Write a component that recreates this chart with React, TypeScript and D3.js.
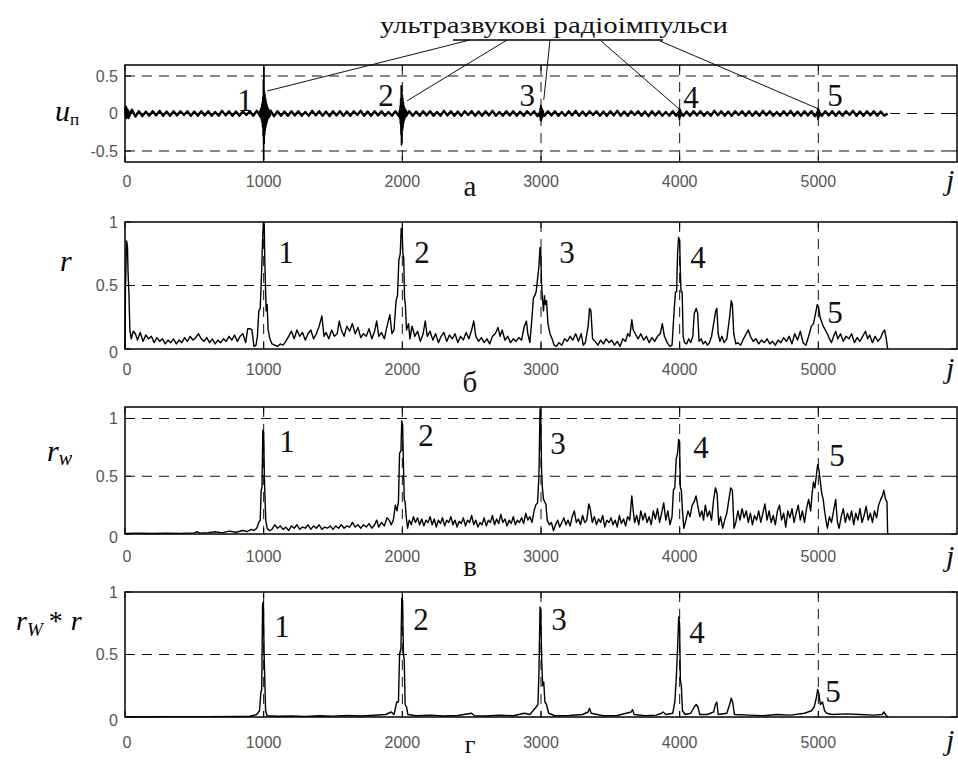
import React from "react";
import * as d3 from "d3";

// ---- data ----
const xTicks = [0, 1000, 2000, 3000, 4000, 5000];
const xGrid = [1000, 2000, 3000, 4000, 5000];

// received signal u_п, background noise sampled every 25 points
const uStep = 25;
const uBase = [
  0.07, -0.06, 0.05, -0.04, 0.03, -0.035, 0.025, -0.03, 0.03, -0.025, 0.035, -0.03, 0.025, -0.03, 0.03, -0.025, 0.03, -0.02, 0.03, -0.03,
  0.025, -0.03, 0.03, -0.025, 0.03, -0.03, 0.02, -0.03, 0.035, -0.025, 0.03, -0.03, 0.025, -0.03, 0.03, -0.02, 0.03, -0.03, 0.035, -0.03,
  0.04, -0.04, 0.035, -0.035, 0.03, -0.03, 0.025, -0.03, 0.03, -0.025, 0.03, -0.03, 0.02, -0.03, 0.035, -0.025, 0.03, -0.03, 0.025, -0.035,
  0.03, -0.025, 0.03, -0.03, 0.025, -0.03, 0.03, -0.02, 0.035, -0.03, 0.025, -0.03, 0.03, -0.025, 0.03, -0.03, 0.02, -0.03, 0.03, -0.035,
  0.04, -0.035, 0.03, -0.03, 0.025, -0.03, 0.03, -0.025, 0.03, -0.03, 0.02, -0.03, 0.035, -0.025, 0.03, -0.03, 0.025, -0.03, 0.03, -0.02,
  0.03, -0.03, 0.025, -0.03, 0.03, -0.025, 0.035, -0.03, 0.02, -0.03, 0.03, -0.025, 0.03, -0.03, 0.025, -0.03, 0.03, -0.02, 0.03, -0.035,
  0.035, -0.03, 0.03, -0.025, 0.03, -0.03, 0.02, -0.03, 0.03, -0.025, 0.035, -0.03, 0.025, -0.03, 0.03, -0.02, 0.03, -0.03, 0.025, -0.03,
  0.03, -0.025, 0.035, -0.03, 0.025, -0.03, 0.03, -0.02, 0.03, -0.03, 0.025, -0.035, 0.03, -0.025, 0.03, -0.03, 0.02, -0.03, 0.03, -0.03,
  0.035, -0.03, 0.025, -0.03, 0.03, -0.025, 0.03, -0.03, 0.02, -0.03, 0.035, -0.025, 0.03, -0.03, 0.025, -0.03, 0.03, -0.02, 0.03, -0.03,
  0.03, -0.03, 0.025, -0.03, 0.035, -0.025, 0.03, -0.03, 0.02, -0.03, 0.03, -0.025, 0.035, -0.03, 0.025, -0.03, 0.03, -0.025, 0.03, -0.035,
  0.035, -0.03, 0.03, -0.025, 0.03, -0.03, 0.025, -0.03, 0.03, -0.02, 0.035, -0.03, 0.025, -0.03, 0.03, -0.025, 0.03, -0.03, 0.025, -0.03,
  0.0,
];
// ultrasonic bursts, every 2 points
const burst0 = [0.0, 0.08, -0.05, 0.1, -0.07, 0.09, -0.06, 0.07, -0.05, 0.06, -0.04, 0.05, -0.04, 0.04, -0.035, 0.035];
const burst1 = [
  0.03, -0.035, 0.04, -0.05, 0.06, -0.06, 0.08, -0.09, 0.12, -0.12, 0.15, -0.18, 0.22, -0.3, 0.45, -0.62, 0.62, -0.4,
  0.3, -0.28, 0.25, -0.22, 0.2, -0.18, 0.16, -0.15, 0.13, -0.12, 0.1, -0.09, 0.08, -0.07, 0.06, -0.06, 0.05, -0.05,
  0.04, -0.04, 0.035, -0.03, 0.03,
];
const burst2 = [
  0.03, -0.04, 0.05, -0.07, 0.1, -0.14, 0.2, -0.28, 0.37, -0.42, 0.35, -0.3, 0.25, -0.22, 0.2, -0.18, 0.15, -0.13,
  0.1, -0.09, 0.08, -0.07, 0.06, -0.05, 0.05, -0.04, 0.04, -0.035, 0.03,
];
const burst3 = [0.03, -0.05, 0.07, -0.09, 0.11, -0.1, 0.09, -0.08, 0.07, -0.06, 0.05, -0.045, 0.04, -0.035, 0.03];
const burst4 = [0.03, -0.05, 0.07, -0.08, 0.07, -0.06, 0.05, -0.04, 0.035, -0.03];
const burst5 = [0.03, -0.05, 0.07, -0.08, 0.07, -0.06, 0.05, -0.04, 0.035, -0.03];
const burstStarts = [0, 970, 1976, 2990, 3992, 4992];

// correlation r
const rCorr = [
  [0, 0.0], [3, 0.45], [8, 0.7], [12, 0.85], [18, 0.8], [22, 0.6], [28, 0.45], [35, 0.15], [45, 0.08], [60, 0.14], [75, 0.12],
  [90, 0.07], [110, 0.13], [130, 0.06], [150, 0.11], [170, 0.08], [190, 0.1], [210, 0.05], [230, 0.09], [250, 0.06], [270, 0.08],
  [290, 0.04], [310, 0.07], [330, 0.05], [350, 0.08], [370, 0.04], [390, 0.07], [410, 0.05], [430, 0.09], [450, 0.06], [470, 0.1],
  [490, 0.07], [510, 0.09], [530, 0.12], [550, 0.08], [570, 0.06], [590, 0.09], [610, 0.05], [630, 0.08], [650, 0.04], [670, 0.07],
  [690, 0.05], [710, 0.08], [730, 0.06], [750, 0.1], [770, 0.07], [790, 0.11], [810, 0.06], [830, 0.1], [850, 0.12], [870, 0.05],
  [885, 0.16], [900, 0.16], [915, 0.15], [930, 0.02], [945, 0.03], [955, 0.1], [965, 0.3], [975, 0.32], [985, 0.6], [992, 0.85],
  [998, 1.0], [1004, 0.98], [1008, 0.7], [1013, 0.5], [1018, 0.3], [1025, 0.35], [1032, 0.15], [1045, 0.08], [1060, 0.04],
  [1080, 0.03], [1100, 0.02], [1120, 0.04], [1140, 0.03], [1160, 0.06], [1180, 0.1], [1200, 0.14], [1220, 0.08], [1240, 0.15],
  [1260, 0.1], [1280, 0.13], [1300, 0.07], [1320, 0.12], [1340, 0.15], [1360, 0.08], [1380, 0.12], [1400, 0.18], [1420, 0.26],
  [1435, 0.1], [1450, 0.13], [1470, 0.08], [1490, 0.15], [1510, 0.1], [1530, 0.12], [1545, 0.22], [1560, 0.15], [1580, 0.1],
  [1600, 0.18], [1620, 0.14], [1640, 0.2], [1660, 0.12], [1680, 0.17], [1700, 0.09], [1720, 0.12], [1740, 0.1], [1760, 0.16],
  [1780, 0.08], [1800, 0.14], [1815, 0.22], [1830, 0.1], [1850, 0.13], [1870, 0.08], [1890, 0.18], [1910, 0.27], [1925, 0.12],
  [1940, 0.15], [1955, 0.38], [1965, 0.42], [1975, 0.7], [1985, 0.75], [1992, 0.95], [1998, 0.95], [2004, 0.75], [2010, 0.72],
  [2016, 0.4], [2022, 0.35], [2030, 0.15], [2045, 0.2], [2055, 0.08], [2070, 0.18], [2090, 0.1], [2110, 0.14], [2130, 0.06],
  [2150, 0.12], [2165, 0.22], [2180, 0.1], [2200, 0.14], [2220, 0.07], [2240, 0.12], [2260, 0.05], [2280, 0.1], [2300, 0.13],
  [2320, 0.06], [2340, 0.11], [2360, 0.08], [2380, 0.12], [2400, 0.05], [2420, 0.1], [2440, 0.07], [2460, 0.13], [2480, 0.08],
  [2500, 0.15], [2515, 0.22], [2530, 0.1], [2550, 0.06], [2570, 0.09], [2590, 0.05], [2610, 0.08], [2630, 0.04], [2650, 0.1],
  [2670, 0.12], [2690, 0.17], [2705, 0.1], [2720, 0.15], [2740, 0.07], [2760, 0.1], [2780, 0.05], [2800, 0.08], [2820, 0.06],
  [2840, 0.09], [2860, 0.07], [2880, 0.18], [2895, 0.22], [2905, 0.12], [2920, 0.05], [2935, 0.25], [2945, 0.4], [2955, 0.42],
  [2965, 0.45], [2975, 0.55], [2985, 0.65], [2993, 0.8], [2998, 0.78], [3004, 0.5], [3010, 0.4], [3018, 0.3], [3025, 0.42],
  [3032, 0.35], [3040, 0.38], [3050, 0.2], [3065, 0.12], [3080, 0.08], [3095, 0.03], [3110, 0.02], [3130, 0.05], [3150, 0.03],
  [3170, 0.08], [3190, 0.06], [3210, 0.1], [3230, 0.07], [3250, 0.12], [3270, 0.06], [3290, 0.12], [3305, 0.03], [3320, 0.05],
  [3340, 0.18], [3350, 0.32], [3360, 0.3], [3372, 0.08], [3390, 0.06], [3410, 0.03], [3430, 0.07], [3450, 0.04], [3470, 0.08],
  [3490, 0.05], [3510, 0.07], [3530, 0.03], [3550, 0.06], [3570, 0.02], [3590, 0.08], [3610, 0.06], [3625, 0.12], [3640, 0.1],
  [3655, 0.23], [3665, 0.15], [3680, 0.12], [3700, 0.08], [3720, 0.12], [3740, 0.07], [3760, 0.1], [3780, 0.05], [3800, 0.09],
  [3820, 0.06], [3840, 0.1], [3860, 0.12], [3875, 0.2], [3890, 0.1], [3910, 0.05], [3930, 0.02], [3945, 0.03], [3960, 0.3],
  [3970, 0.45], [3978, 0.45], [3985, 0.75], [3992, 0.88], [4000, 0.85], [4005, 0.6], [4010, 0.45], [4018, 0.45], [4025, 0.1],
  [4035, 0.05], [4050, 0.04], [4065, 0.08], [4080, 0.05], [4095, 0.1], [4105, 0.28], [4120, 0.32], [4130, 0.28], [4140, 0.06],
  [4155, 0.08], [4170, 0.04], [4185, 0.06], [4200, 0.03], [4215, 0.05], [4230, 0.1], [4245, 0.2], [4260, 0.3], [4268, 0.32],
  [4278, 0.12], [4290, 0.06], [4305, 0.1], [4320, 0.05], [4340, 0.08], [4360, 0.25], [4372, 0.38], [4380, 0.35], [4390, 0.12],
  [4405, 0.04], [4420, 0.05], [4440, 0.03], [4460, 0.08], [4480, 0.12], [4495, 0.15], [4510, 0.1], [4530, 0.06], [4550, 0.08],
  [4570, 0.04], [4590, 0.07], [4610, 0.05], [4630, 0.08], [4650, 0.04], [4670, 0.06], [4690, 0.03], [4710, 0.07], [4730, 0.05],
  [4750, 0.09], [4770, 0.06], [4790, 0.1], [4810, 0.04], [4830, 0.12], [4850, 0.07], [4870, 0.14], [4890, 0.05], [4910, 0.03],
  [4930, 0.1], [4950, 0.18], [4965, 0.2], [4980, 0.28], [4992, 0.35], [5002, 0.33], [5012, 0.25], [5022, 0.22], [5035, 0.18],
  [5050, 0.15], [5065, 0.12], [5080, 0.08], [5095, 0.05], [5110, 0.1], [5125, 0.14], [5140, 0.08], [5160, 0.12], [5180, 0.06],
  [5200, 0.1], [5220, 0.08], [5240, 0.12], [5260, 0.05], [5280, 0.09], [5300, 0.06], [5320, 0.1], [5340, 0.14], [5355, 0.08],
  [5370, 0.11], [5390, 0.05], [5410, 0.1], [5430, 0.06], [5450, 0.09], [5465, 0.13], [5478, 0.15], [5490, 0.08], [5500, 0.0],
];

// weighted correlation r_w
const rW = [
  [0, 0.005], [100, 0.006], [200, 0.004], [300, 0.006], [400, 0.005], [500, 0.01], [520, 0.02], [540, 0.008], [600, 0.012],
  [650, 0.02], [700, 0.01], [750, 0.025], [800, 0.015], [850, 0.03], [880, 0.02], [910, 0.04], [930, 0.03], [950, 0.05],
  [965, 0.1], [975, 0.12], [982, 0.38], [988, 0.4], [994, 0.9], [1000, 0.88], [1005, 0.5], [1010, 0.3], [1015, 0.12],
  [1025, 0.05], [1040, 0.03], [1060, 0.04], [1080, 0.08], [1100, 0.05], [1120, 0.07], [1140, 0.04], [1160, 0.06], [1180, 0.03],
  [1200, 0.07], [1220, 0.05], [1240, 0.08], [1260, 0.04], [1280, 0.06], [1300, 0.05], [1320, 0.08], [1340, 0.04], [1360, 0.07],
  [1380, 0.05], [1400, 0.08], [1420, 0.04], [1440, 0.06], [1460, 0.05], [1480, 0.07], [1500, 0.04], [1520, 0.07], [1540, 0.05],
  [1560, 0.08], [1580, 0.05], [1600, 0.07], [1620, 0.06], [1640, 0.1], [1660, 0.06], [1680, 0.08], [1700, 0.05], [1720, 0.08],
  [1740, 0.06], [1760, 0.09], [1780, 0.05], [1800, 0.08], [1815, 0.12], [1830, 0.06], [1850, 0.1], [1870, 0.07], [1890, 0.14],
  [1905, 0.12], [1920, 0.08], [1935, 0.12], [1950, 0.25], [1962, 0.2], [1972, 0.28], [1980, 0.7], [1990, 0.72], [1996, 0.98],
  [2002, 0.95], [2008, 0.6], [2014, 0.3], [2020, 0.28], [2028, 0.15], [2038, 0.05], [2050, 0.12], [2065, 0.08], [2080, 0.15],
  [2095, 0.1], [2110, 0.14], [2125, 0.08], [2140, 0.13], [2155, 0.07], [2170, 0.12], [2185, 0.1], [2200, 0.15], [2215, 0.08],
  [2230, 0.13], [2245, 0.06], [2260, 0.12], [2275, 0.09], [2290, 0.14], [2305, 0.07], [2320, 0.12], [2335, 0.1], [2350, 0.15],
  [2365, 0.08], [2380, 0.12], [2395, 0.06], [2410, 0.11], [2425, 0.09], [2440, 0.14], [2455, 0.07], [2470, 0.12], [2485, 0.1],
  [2500, 0.16], [2515, 0.08], [2530, 0.12], [2545, 0.06], [2560, 0.1], [2575, 0.08], [2590, 0.14], [2605, 0.07], [2620, 0.12],
  [2635, 0.1], [2650, 0.16], [2665, 0.08], [2680, 0.13], [2695, 0.09], [2710, 0.17], [2725, 0.1], [2740, 0.13], [2755, 0.07],
  [2770, 0.12], [2785, 0.09], [2800, 0.15], [2815, 0.08], [2830, 0.12], [2845, 0.1], [2860, 0.14], [2875, 0.09], [2890, 0.18],
  [2905, 0.12], [2920, 0.15], [2935, 0.1], [2950, 0.2], [2962, 0.25], [2975, 0.27], [2985, 0.5], [2993, 1.08], [2998, 1.05],
  [3004, 0.55], [3010, 0.4], [3018, 0.3], [3026, 0.28], [3035, 0.26], [3045, 0.12], [3060, 0.08], [3075, 0.1], [3090, 0.03],
  [3105, 0.08], [3120, 0.12], [3135, 0.06], [3150, 0.1], [3165, 0.14], [3180, 0.08], [3195, 0.12], [3210, 0.07], [3225, 0.15],
  [3240, 0.2], [3255, 0.1], [3270, 0.13], [3285, 0.08], [3300, 0.16], [3315, 0.1], [3330, 0.12], [3345, 0.26], [3355, 0.22],
  [3370, 0.1], [3385, 0.15], [3400, 0.08], [3415, 0.13], [3430, 0.1], [3445, 0.16], [3460, 0.06], [3475, 0.12], [3490, 0.1],
  [3505, 0.14], [3520, 0.08], [3535, 0.12], [3550, 0.06], [3565, 0.16], [3580, 0.09], [3595, 0.13], [3610, 0.07], [3625, 0.15],
  [3640, 0.12], [3655, 0.33], [3665, 0.2], [3675, 0.1], [3690, 0.16], [3705, 0.08], [3720, 0.2], [3735, 0.12], [3750, 0.18],
  [3765, 0.1], [3780, 0.15], [3795, 0.08], [3810, 0.2], [3825, 0.13], [3840, 0.22], [3855, 0.1], [3870, 0.18], [3885, 0.27],
  [3900, 0.12], [3915, 0.2], [3930, 0.08], [3945, 0.15], [3955, 0.38], [3965, 0.4], [3975, 0.65], [3985, 0.7], [3993, 0.82],
  [3999, 0.8], [4005, 0.4], [4012, 0.38], [4020, 0.2], [4030, 0.05], [4045, 0.12], [4060, 0.2], [4075, 0.15], [4090, 0.25],
  [4105, 0.28], [4118, 0.33], [4130, 0.25], [4145, 0.15], [4160, 0.2], [4172, 0.12], [4185, 0.25], [4200, 0.15], [4215, 0.2],
  [4230, 0.12], [4245, 0.3], [4258, 0.4], [4270, 0.35], [4282, 0.08], [4295, 0.15], [4310, 0.05], [4325, 0.12], [4340, 0.18],
  [4355, 0.3], [4368, 0.4], [4380, 0.38], [4392, 0.05], [4405, 0.1], [4420, 0.2], [4435, 0.12], [4450, 0.22], [4465, 0.14],
  [4480, 0.2], [4495, 0.1], [4510, 0.18], [4525, 0.08], [4540, 0.16], [4555, 0.12], [4570, 0.2], [4585, 0.1], [4600, 0.18],
  [4615, 0.26], [4630, 0.12], [4645, 0.2], [4660, 0.1], [4675, 0.16], [4690, 0.08], [4705, 0.2], [4720, 0.25], [4735, 0.12],
  [4750, 0.18], [4765, 0.06], [4780, 0.2], [4795, 0.14], [4810, 0.22], [4825, 0.1], [4840, 0.18], [4855, 0.25], [4870, 0.12],
  [4885, 0.2], [4900, 0.1], [4915, 0.22], [4930, 0.3], [4945, 0.2], [4955, 0.35], [4965, 0.45], [4975, 0.4], [4985, 0.5],
  [4995, 0.6], [5005, 0.55], [5015, 0.45], [5025, 0.35], [5035, 0.3], [5045, 0.2], [5055, 0.12], [5065, 0.05], [5080, 0.15],
  [5095, 0.1], [5110, 0.2], [5125, 0.3], [5138, 0.1], [5150, 0.05], [5165, 0.15], [5180, 0.22], [5195, 0.1], [5210, 0.18],
  [5225, 0.12], [5240, 0.2], [5255, 0.08], [5270, 0.18], [5285, 0.12], [5300, 0.22], [5315, 0.1], [5330, 0.16], [5345, 0.24],
  [5360, 0.12], [5375, 0.18], [5390, 0.1], [5405, 0.2], [5420, 0.14], [5435, 0.25], [5450, 0.3], [5462, 0.33], [5472, 0.38],
  [5485, 0.3], [5495, 0.28], [5500, 0.0],
];

// product r_w * r
const rWr = [
  [0, 0.002], [200, 0.002], [400, 0.003], [600, 0.003], [800, 0.004], [900, 0.006], [950, 0.02], [970, 0.05], [980, 0.2],
  [986, 0.22], [992, 0.9], [998, 0.92], [1003, 0.5], [1008, 0.3], [1014, 0.05], [1025, 0.01], [1100, 0.006], [1200, 0.008],
  [1300, 0.005], [1400, 0.01], [1500, 0.007], [1600, 0.012], [1700, 0.008], [1800, 0.014], [1880, 0.02], [1920, 0.04],
  [1940, 0.02], [1960, 0.12], [1972, 0.12], [1980, 0.5], [1990, 0.55], [1996, 0.95], [2002, 0.93], [2008, 0.5], [2014, 0.45],
  [2020, 0.1], [2030, 0.08], [2040, 0.02], [2100, 0.01], [2200, 0.015], [2300, 0.008], [2400, 0.012], [2500, 0.03], [2520, 0.01],
  [2600, 0.008], [2700, 0.015], [2800, 0.01], [2880, 0.03], [2920, 0.02], [2950, 0.06], [2965, 0.08], [2978, 0.1], [2985, 0.35],
  [2993, 0.88], [2998, 0.86], [3005, 0.45], [3012, 0.25], [3020, 0.28], [3028, 0.12], [3040, 0.1], [3055, 0.03], [3100, 0.01],
  [3200, 0.012], [3300, 0.02], [3340, 0.04], [3350, 0.07], [3362, 0.03], [3450, 0.01], [3550, 0.012], [3650, 0.04], [3660, 0.06],
  [3672, 0.02], [3750, 0.01], [3830, 0.015], [3870, 0.03], [3880, 0.04], [3900, 0.02], [3950, 0.03], [3965, 0.12], [3975, 0.3],
  [3985, 0.55], [3993, 0.8], [3999, 0.75], [4005, 0.3], [4012, 0.25], [4020, 0.05], [4040, 0.02], [4080, 0.03], [4105, 0.08],
  [4120, 0.1], [4132, 0.08], [4145, 0.02], [4200, 0.02], [4245, 0.04], [4258, 0.1], [4268, 0.12], [4278, 0.02], [4340, 0.03],
  [4360, 0.1], [4372, 0.15], [4382, 0.12], [4395, 0.02], [4500, 0.015], [4600, 0.01], [4700, 0.02], [4800, 0.015], [4900, 0.03],
  [4950, 0.05], [4970, 0.08], [4985, 0.15], [4995, 0.22], [5005, 0.18], [5015, 0.1], [5030, 0.12], [5045, 0.05], [5060, 0.03],
  [5100, 0.02], [5200, 0.025], [5300, 0.02], [5400, 0.015], [5460, 0.02], [5472, 0.04], [5485, 0.02], [5500, 0.0],
];

// pulse numbers, placed in data units [j, value]
const pulseNames = ["1", "2", "3", "4", "5"];
const labelsU = [[865, 0.18], [1882, 0.25], [2900, 0.25], [4082, 0.22], [5120, 0.25]];
const labelsR = [[1161, 0.76], [2142, 0.76], [3188, 0.76], [4132, 0.72], [5120, 0.29]];
const labelsRw = [[1168, 0.8], [2171, 0.86], [3123, 0.79], [4154, 0.75], [5134, 0.68]];
const labelsRwr = [[1132, 0.73], [2135, 0.78], [3130, 0.78], [4125, 0.68], [5106, 0.21]];

const title = "ультразвукові радіоімпульси";

// ---- layout ----
const W = 958;
const H = 760;
const X0 = 125;
const X1 = 957;
const x = d3.scaleLinear().domain([0, 6000]).range([X0, X1]);
const serif = "'Liberation Serif', 'Times New Roman', serif";
const sans = "'Liberation Sans', Arial, sans-serif";

const uSeries = [
  uBase.map((v, i) => [i * uStep, v]),
  ...[burst0, burst1, burst2, burst3, burst4, burst5].map((b, k) => b.map((v, i) => [burstStarts[k] + i * 2, v])),
];

const panels = [
  { key: "a", top: 65, bottom: 162, domain: [-0.647, 0.647], yTicks: [-0.5, 0, 0.5], yGrid: [-0.5, 0, 0.5],
    series: uSeries, lw: [2.4, 1.6], labels: labelsU, letter: "а", tickDy: 25, letterY: 196, jY: 190 },
  { key: "b", top: 222, bottom: 349, domain: [0, 1], yTicks: [0, 0.5, 1], yGrid: [0.5],
    series: [rCorr], lw: [1.4], labels: labelsR, letter: "б", tickDy: 26, letterY: 392, jY: 378 },
  { key: "c", top: 407, bottom: 534, domain: [0, 1.1], yTicks: [0, 0.5, 1], yGrid: [0.5, 1],
    series: [rW], lw: [1.4], labels: labelsRw, letter: "в", tickDy: 28, letterY: 576, jY: 566 },
  { key: "d", top: 592, bottom: 717, domain: [0, 1], yTicks: [0, 0.5, 1], yGrid: [0.5],
    series: [rWr], lw: [1.4], labels: labelsRwr, letter: "г", tickDy: 31, letterY: 753, jY: 750 },
];

const fmt = (v) => (v === 0 ? "0" : v === 1 ? "1" : String(v));

function YTitle({ k }) {
  if (k === "a")
    return (
      <text x={55} y={121} fontFamily={serif} fontSize={30} fontStyle="italic">
        u<tspan fontSize={17} fontStyle="normal" dy={4}>п</tspan>
      </text>
    );
  if (k === "b")
    return (
      <text x={60} y={271} fontFamily={serif} fontSize={30} fontStyle="italic">r</text>
    );
  if (k === "c")
    return (
      <text x={47} y={461} fontFamily={serif} fontSize={30} fontStyle="italic">
        r<tspan fontSize={20} dy={4}>w</tspan>
      </text>
    );
  return (
    <text x={16} y={630} fontFamily={serif} fontSize={28} fontStyle="italic">
      r<tspan fontSize={19} dy={6}>W</tspan>
      <tspan dy={-6} fontStyle="normal" dx={6}>*</tspan>
      <tspan dx={8}>r</tspan>
    </text>
  );
}

function Panel({ p }) {
  const y = d3.scaleLinear().domain(p.domain).range([p.bottom, p.top]);
  const line = d3.line().x((d) => x(d[0])).y((d) => y(d[1]));
  return (
    <g>
      {p.yGrid.map((v) => (
        <line key={"h" + v} x1={X0} x2={X1} y1={y(v)} y2={y(v)} stroke="#111" strokeWidth={1.1} strokeDasharray="10 7" />
      ))}
      {xGrid.map((j) => (
        <line key={"v" + j} x1={x(j)} x2={x(j)} y1={p.top} y2={p.bottom} stroke="#111" strokeWidth={1} strokeDasharray="10 7" />
      ))}
      {p.series.map((s, i) => (
        <path key={i} d={line(s)} fill="none" stroke="#000" strokeWidth={i === 0 ? p.lw[0] : p.lw[1]} strokeLinejoin="round" />
      ))}
      <rect x={X0} y={p.top} width={X1 - X0} height={p.bottom - p.top} fill="none" stroke="#000" strokeWidth={1.5} />
      {xTicks.map((j) => (
        <g key={"t" + j}>
          <line x1={x(j)} x2={x(j)} y1={p.bottom} y2={p.bottom - 6} stroke="#000" />
          <line x1={x(j)} x2={x(j)} y1={p.top} y2={p.top + 6} stroke="#000" />
          <text x={x(j) + (j === 0 ? 2 : 0)} y={p.bottom + p.tickDy} textAnchor="middle" fontFamily={sans} fontSize={16} fill="#555">
            {j}
          </text>
        </g>
      ))}
      {p.yTicks.map((v) => (
        <g key={"y" + v}>
          <line x1={X0} x2={X0 + 6} y1={y(v)} y2={y(v)} stroke="#000" />
          <line x1={X1} x2={X1 - 6} y1={y(v)} y2={y(v)} stroke="#000" />
          <text x={118} y={y(v) + (v === 0 && p.key !== "a" ? 3 : 0)} dy="0.35em" textAnchor="end" fontFamily={sans} fontSize={16} fill="#555">
            {fmt(v)}
          </text>
        </g>
      ))}
      {p.labels.map((l, i) => (
        <text key={"l" + i} x={x(l[0])} y={y(l[1])} dy="0.35em" textAnchor="middle" fontFamily={serif} fontSize={31} fill="#111">
          {pulseNames[i]}
        </text>
      ))}
      <YTitle k={p.key} />
      <text x={470} y={p.letterY} textAnchor="middle" fontFamily={serif} fontSize={p.key === "d" ? 26 : 29} fill="#111">{p.letter}</text>
      <text x={946} y={p.jY} fontFamily={serif} fontSize={30} fontStyle="italic" fill="#111">j</text>
    </g>
  );
}

export default function App() {
  const pu = panels[0];
  const yu = d3.scaleLinear().domain(pu.domain).range([pu.bottom, pu.top]);
  // leader lines from the caption bracket to each burst
  const leaders = [
    { from: [470, 40], to: [x(1025), yu(0.3)] },
    { from: [507, 40], to: [x(2035), yu(0.17)] },
    { from: [550, 40], to: [x(3020), yu(0.18)] },
    { from: [601, 41], to: [x(3990), yu(0.07)] },
    { from: [660, 41], to: [x(4990), yu(0.07)] },
  ];
  return (
    <svg width={W} height={H} style={{ position: "absolute", left: 0, top: 0, background: "#fff" }}>
      <rect width={W} height={H} fill="#fff" />
      {panels.map((p) => (
        <Panel key={p.key} p={p} />
      ))}
      <text x={554} y={33} textAnchor="middle" fontFamily={serif} fontSize={24} textLength={348} lengthAdjust="spacingAndGlyphs" fill="#111">
        {title}
      </text>
      <line x1={453} x2={663} y1={40} y2={40} stroke="#000" strokeWidth={1.3} />
      {leaders.map((l, i) => (
        <line key={i} x1={l.from[0]} y1={l.from[1]} x2={l.to[0]} y2={l.to[1]} stroke="#111" strokeWidth={1} />
      ))}
    </svg>
  );
}
